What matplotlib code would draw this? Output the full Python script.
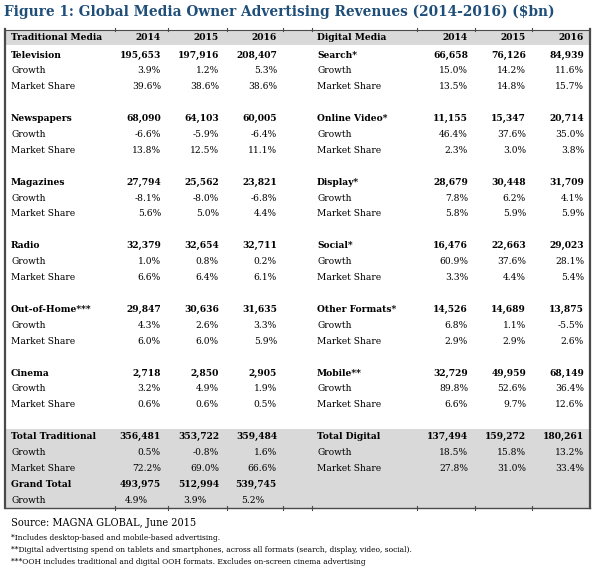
import matplotlib.pyplot as plt

# datos de la tabla (MAGNA GLOBAL, junio 2015)
years = ['2014', '2015', '2016']

trad_media = ['Television', 'Newspapers', 'Magazines', 'Radio', 'Out-of-Home***', 'Cinema']
trad_rev = [[195653, 197916, 208407], [68090, 64103, 60005], [27794, 25562, 23821],
            [32379, 32654, 32711], [29847, 30636, 31635], [2718, 2850, 2905]]
trad_growth = [[3.9, 1.2, 5.3], [-6.6, -5.9, -6.4], [-8.1, -8.0, -6.8],
               [1.0, 0.8, 0.2], [4.3, 2.6, 3.3], [3.2, 4.9, 1.9]]
trad_share = [[39.6, 38.6, 38.6], [13.8, 12.5, 11.1], [5.6, 5.0, 4.4],
              [6.6, 6.4, 6.1], [6.0, 6.0, 5.9], [0.6, 0.6, 0.5]]

dig_media = ['Search*', 'Online Video*', 'Display*', 'Social*', 'Other Formats*', 'Mobile**']
dig_rev = [[66658, 76126, 84939], [11155, 15347, 20714], [28679, 30448, 31709],
           [16476, 22663, 29023], [14526, 14689, 13875], [32729, 49959, 68149]]
dig_growth = [[15.0, 14.2, 11.6], [46.4, 37.6, 35.0], [7.8, 6.2, 4.1],
              [60.9, 37.6, 28.1], [6.8, 1.1, -5.5], [89.8, 52.6, 36.4]]
dig_share = [[13.5, 14.8, 15.7], [2.3, 3.0, 3.8], [5.8, 5.9, 5.9],
             [3.3, 4.4, 5.4], [2.9, 2.9, 2.6], [6.6, 9.7, 12.6]]

total_trad = [356481, 353722, 359484]
total_trad_growth = [0.5, -0.8, 1.6]
total_trad_share = [72.2, 69.0, 66.6]
grand_total = [493975, 512994, 539745]
grand_growth = [4.9, 3.9, 5.2]
total_dig = [137494, 159272, 180261]
total_dig_growth = [18.5, 15.8, 13.2]
total_dig_share = [27.8, 31.0, 33.4]

title = 'Figure 1: Global Media Owner Advertising Revenues (2014-2016) ($bn)'
source = 'Source: MAGNA GLOBAL, June 2015'
notes = ['*Includes desktop-based and mobile-based advertising.',
         '**Digital advertising spend on tablets and smartphones, across all formats (search, display, video, social).',
         '***OOH includes traditional and digital OOH formats. Excludes on-screen cinema advertising']

SERIF = 'DejaVu Serif'
FS = 7.3
GRIS = '#d9d9d9'
BORDE = '#4a4a4a'

fig = plt.figure(figsize=(5.95, 5.68), dpi=100)
ax = fig.add_axes([0, 0, 1, 1])
ax.set_xlim(0, 595)
ax.set_ylim(568, 0)
ax.axis('off')


def num(v):
    return f'{v:,}'


def pct(v):
    return f'{v:.1f}%'


def txt(x, y, s, bold=False, ha='left', size=FS, stretch='condensed', **kw):
    ax.text(x, y, s, fontsize=size, fontweight='bold' if bold else 'normal',
            family=SERIF, fontstretch=stretch, va='center', ha=ha, **kw)


# fondos grises
ax.fill_between([5, 590], 30, 45, color=GRIS, lw=0)
ax.fill_between([5, 590], 429, 508, color=GRIS, lw=0)

# marco
ax.plot([5, 5], [29, 508], color=BORDE, lw=1.6)
ax.plot([590, 590], [29, 508], color=BORDE, lw=1.6)
ax.plot([5, 590], [29.5, 29.5], color=BORDE, lw=0.8)
ax.plot([5, 590], [508, 508], color=BORDE, lw=1.0)
for xt in [115, 168, 227, 283, 312, 417, 475, 532]:
    ax.plot([xt, xt], [28, 31], color=BORDE, lw=0.8)
    ax.plot([xt, xt], [506, 510], color=BORDE, lw=0.8)

txt(4, 12, title, bold=True, size=9.95, stretch='normal', color='#1f4e79')

col_l = [161, 219, 277]
col_r = [468, 526, 584]
y0 = 55
dy = 15.9


def ry(i):
    return y0 + (i - 1) * dy


def fila(xlab, cols, i, label, vals, bold):
    txt(xlab, ry(i), label, bold)
    for xc, v in zip(cols, vals):
        txt(xc, ry(i), v, bold, ha='right')


# encabezados
for xlab, cols, lab in [(11, col_l, 'Traditional Media'), (317, col_r, 'Digital Media')]:
    txt(xlab, 37.5, lab, True)
    for xc, y in zip(cols, years):
        txt(xc, 37.5, y, True, ha='right')

for k in range(6):
    i = 1 + 4 * k
    fila(11, col_l, i, trad_media[k], [num(v) for v in trad_rev[k]], True)
    fila(11, col_l, i + 1, 'Growth', [pct(v) for v in trad_growth[k]], False)
    fila(11, col_l, i + 2, 'Market Share', [pct(v) for v in trad_share[k]], False)
    fila(317, col_r, i, dig_media[k], [num(v) for v in dig_rev[k]], True)
    fila(317, col_r, i + 1, 'Growth', [pct(v) for v in dig_growth[k]], False)
    fila(317, col_r, i + 2, 'Market Share', [pct(v) for v in dig_share[k]], False)

fila(11, col_l, 25, 'Total Traditional', [num(v) for v in total_trad], True)
fila(11, col_l, 26, 'Growth', [pct(v) for v in total_trad_growth], False)
fila(11, col_l, 27, 'Market Share', [pct(v) for v in total_trad_share], False)
fila(11, col_l, 28, 'Grand Total', [num(v) for v in grand_total], True)
fila(11, [c - 13 for c in col_l], 29, 'Growth', [pct(v) for v in grand_growth], False)

fila(317, col_r, 25, 'Total Digital', [num(v) for v in total_dig], True)
fila(317, col_r, 26, 'Growth', [pct(v) for v in total_dig_growth], False)
fila(317, col_r, 27, 'Market Share', [pct(v) for v in total_dig_share], False)

txt(11, 523, source, size=7.85)
for j, n in enumerate(notes):
    txt(11, 538 + j * 12, n, size=6.05)

fig.savefig('out.png', dpi=100)
